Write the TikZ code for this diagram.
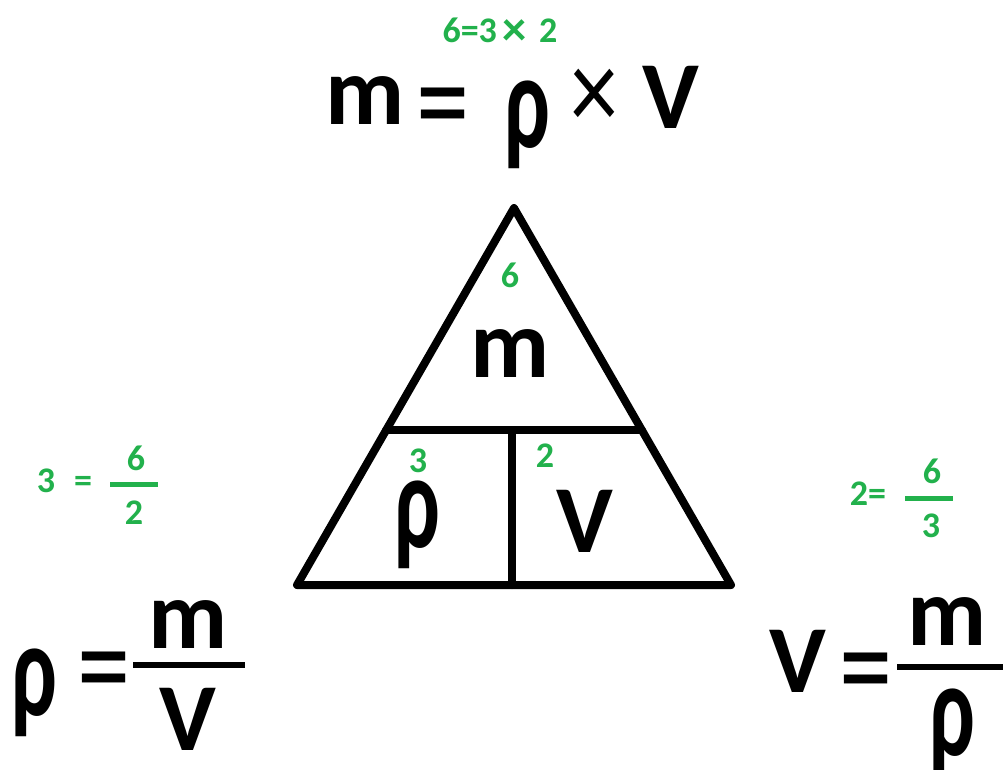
\documentclass[tikz,border=0pt]{standalone}
\usepackage{fontspec}
\setmainfont{Carlito}
\definecolor{paintgreen}{RGB}{34,177,76}
\newcommand\tallrho{\scalebox{1}[1.56]{ρ}}
\newcommand\talleq{\scalebox{1}[1.3]{=}}
\newcommand\tallx{\scalebox{1}[1.2]{×}}
\newcommand\greenx{\raisebox{-2.3pt}{\scalebox{1.35}{×}}}
\begin{document}
\begin{tikzpicture}[x=0.75pt,y=-0.75pt,
  lbl/.style={inner sep=0pt, outer sep=0pt, anchor=base},
  bigm/.style={lbl, font=\fontsize{73}{78}\selectfont\bfseries},
  bigV/.style={lbl, font=\fontsize{72}{76}\selectfont\bfseries},
  rho/.style={lbl, font=\fontsize{65}{70}\selectfont\bfseries},
  eqs/.style={lbl, font=\fontsize{80}{84}\selectfont},
  times/.style={lbl, font=\fontsize{72}{76}\selectfont},
  num/.style={lbl, text=paintgreen, font=\fontsize{27}{30}\selectfont\bfseries},
  tri/.style={line width=6pt, line join=round, line cap=round},
  fbar/.style={line width=4.5pt},
  gbar/.style={line width=3.75pt, draw=paintgreen}]
\useasboundingbox (0,0) rectangle (1003,769);
\fill[white] (0,0) rectangle (1003,769);

% top formula
\node[num] (topnum) at (500,42) {6=3\,\greenx\,\,2};
\node[bigm] (tm) at (365,124) {m};
\node[eqs] (teq) at (443,147) {\talleq};
\node[rho] (trho) at (527,147) {\tallrho};
\node[times] (tx) at (594,129) {\tallx};
\node[bigV] (tV) at (671,128) {V};

% triangle
\coordinate (A) at (514,208);
\coordinate (B) at (297,585);
\coordinate (C) at (731,585);
\coordinate (L) at (386,430);
\coordinate (R) at (642,430);
\coordinate (Mt) at (512,430);
\coordinate (Mb) at (512,585);
\draw[tri] (A) -- (B) -- (C) -- cycle;
\draw[tri] (L) -- (R);
\draw[tri] (Mt) -- (Mb);
\node[num] (n6) at (510,287) {6};
\node[bigm] (cm) at (510,377) {m};
\node[num] (n3) at (418,472) {3};
\node[rho] (crho) at (417,547) {\tallrho};
\node[num] (n2) at (545,467) {2};
\node[bigV] (cV) at (585,552) {V};

% left formula
\node[num] (l3) at (46,492) {3};
\node[num] (leq) at (83,492) {=};
\coordinate (lg1) at (110,484.5);
\coordinate (lg2) at (158,484.5);
\draw[gbar] (lg1) -- (lg2);
\node[num] (l6) at (136,470) {6};
\node[num] (l2) at (134,524) {2};
\node[rho] (lrho) at (34,715) {\tallrho};
\node[eqs] (leqb) at (104,711) {\talleq};
\coordinate (lb1) at (133,665);
\coordinate (lb2) at (245,665);
\draw[fbar] (lb1) -- (lb2);
\node[bigm] (lm) at (188,648) {m};
\node[bigV] (lV) at (188,750) {V};

% right formula
\node[num] (r2) at (868,505) {2=};
\coordinate (rg1) at (905,498);
\coordinate (rg2) at (953,498);
\draw[gbar] (rg1) -- (rg2);
\node[num] (r6) at (932,483) {6};
\node[num] (r3) at (931,537) {3};
\node[bigV] (rV) at (798,692) {V};
\node[eqs] (reqb) at (866,712) {\talleq};
\coordinate (rb1) at (897,666.5);
\coordinate (rb2) at (1003,666.5);
\draw[fbar] (rb1) -- (rb2);
\node[bigm] (rm) at (947,645) {m};
\node[rho] (rrho) at (952,755) {\tallrho};
\end{tikzpicture}
\end{document}
